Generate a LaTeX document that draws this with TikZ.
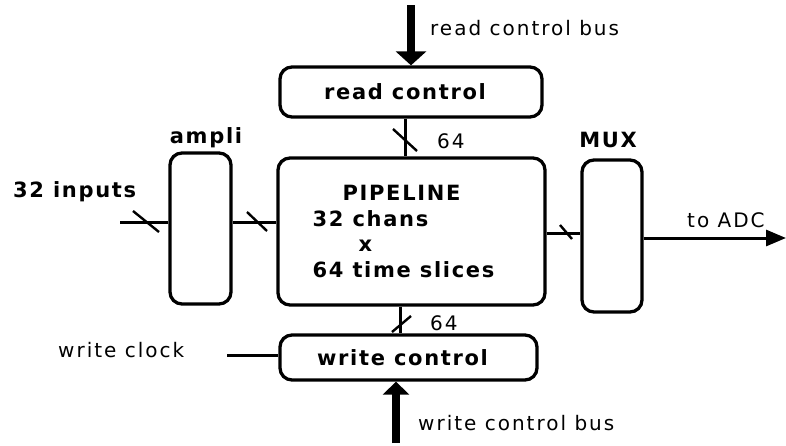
\documentclass[tikz,border=0pt]{standalone}
\usepackage{fontspec}
\usetikzlibrary{arrows.meta,calc}
\newfontfamily\lablight[LetterSpace=10]{DejaVu Sans}
\newfontfamily\labbold[LetterSpace=8]{DejaVu Sans}
\begin{document}
\begin{tikzpicture}[x=1pt,y=-1pt,
  blk/.style={draw,line width=3.3pt,rounded corners=12pt,inner sep=0pt,
    font=\labbold\bfseries\fontsize{21}{25.7}\selectfont},
  wire/.style={line width=3pt},
  tick/.style={line width=2.4pt},
  boldlbl/.style={inner sep=0pt,font=\labbold\bfseries\fontsize{21}{25}\selectfont},
  lightlbl/.style={inner sep=0pt,font=\lablight\fontsize{20}{24}\selectfont},
  bus/.style={line width=8pt,-{Triangle[width=30pt,length=14pt]}}]
\useasboundingbox (0,0) rectangle (786,445);

% blocks
\node[blk,minimum width=262pt,minimum height=50pt] (rc) at (411,92) {read control\hspace*{12pt}};
\node[blk,minimum width=267pt,minimum height=147pt,align=left] (pipe) at (411.5,231.5)
  {\hspace*{30pt}PIPELINE\\32 chans\\\hspace*{46pt}x\\64 time slices\hspace*{16pt}};
\node[blk,minimum width=61pt,minimum height=151pt] (amp) at (200.5,228.5) {};
\node[blk,minimum width=60pt,minimum height=152pt] (mux) at (612,236) {};
\node[blk,minimum width=257pt,minimum height=45pt] (wc) at (408.5,357.5) {write control\hspace*{12pt}};

% labels
\node[boldlbl,anchor=base] (amplbl) at (206,143) {ampli};
\node[boldlbl,anchor=base] (muxlbl) at (608,147) {MUX};
\node[boldlbl,anchor=base west] (inlbl) at (13,197) {32 inputs};
\node[lightlbl,anchor=base west] (rbuslbl) at (430,35) {read control bus};
\node[lightlbl,anchor=base west] (wbuslbl) at (418,430) {write control bus};
\node[lightlbl,anchor=base west] (clklbl) at (58,357) {write clock};
\node[lightlbl,anchor=base west] (adclbl) at (687,227) {to ADC};
\node[lightlbl,anchor=base west] (n64a) at (437,148) {64};
\node[lightlbl,anchor=base west] (n64b) at (430,330) {64};

% free ends
\coordinate (inp) at (120,222);
\coordinate (rx) at (405,0);
\coordinate (wx) at (400,0);
\coordinate (py) at (0,233);
\coordinate (adc) at (786,238);
\coordinate (clk) at (227,355);
\coordinate (rbus) at (411,5);
\coordinate (wbus) at (396,443);

% connectors
\draw[wire] (inp) -- (inp -| amp.west);
\draw[tick] (133,211) -- (159,232);
\draw[wire] (amp.east |- inp) -- (pipe.west |- inp);
\draw[tick] (247,212) -- (267,231);
\draw[wire] (rc.south -| rx) -- (pipe.north -| rx);
\draw[tick] (393,129) -- (417,151);
\draw[wire] (pipe.south -| wx) -- (wc.north -| wx);
\draw[tick] (392,332) -- (411,316);
\draw[wire] (pipe.east |- py) -- (mux.west |- py);
\draw[tick] (560,225) -- (572,239);
\draw[wire,-{Triangle[width=16pt,length=20pt]}] (mux.east |- adc) -- (adc);
\draw[wire] (clk) -- (wc.west |- clk);

% control buses
\draw[bus] (rbus) -- (rc.north -| rbus);
\draw[line width=8pt,-{Triangle[width=26pt,length=13pt]}] (wbus) -- (wc.south -| wbus);
\end{tikzpicture}
\end{document}
